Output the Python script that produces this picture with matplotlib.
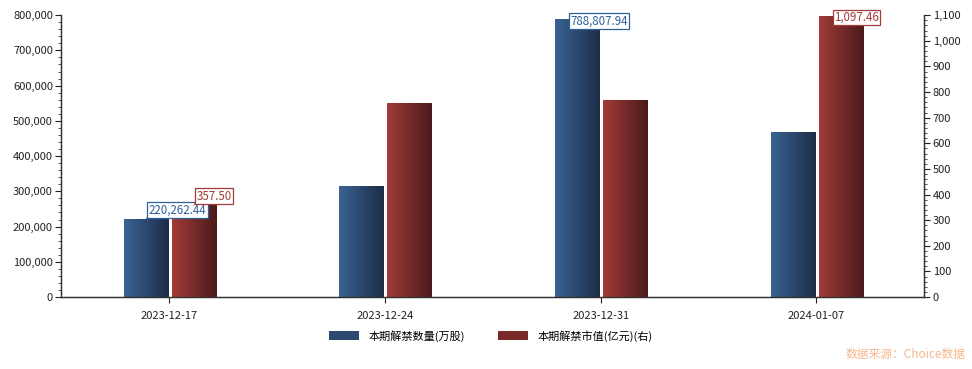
import numpy as np
import matplotlib
matplotlib.use("Agg")
from matplotlib import pyplot as plt
from matplotlib.colors import LinearSegmentedColormap
from matplotlib.patches import Patch
from matplotlib.ticker import FuncFormatter, MultipleLocator, AutoMinorLocator

plt.rcParams['font.family'] = ['Noto Sans CJK SC', 'DejaVu Sans']

dates = ["2023-12-17", "2023-12-24", "2023-12-31", "2024-01-07"]
shares = [220262.44, 315000, 788807.94, 468000]      # 本期解禁数量(万股)
values = [357.50, 757, 768, 1097.46]                 # 本期解禁市值(亿元)
labelled_shares = [0, 2]
labelled_values = [0, 3]

blue_map = LinearSegmentedColormap.from_list("b", ["#3a6393", "#1c2d48"])
red_map = LinearSegmentedColormap.from_list("r", ["#a33b38", "#4a1b1b"])
grad = np.linspace(0, 1, 64).reshape(1, -1)


def gradient_bars(ax, xs, hs, w, cmap):
    bars = ax.bar(xs, hs, w, color="none", edgecolor="none")
    for r in bars:
        x0, y0 = r.get_x(), r.get_y()
        im = ax.imshow(grad, cmap=cmap, aspect="auto", origin="lower",
                       extent=[x0, x0 + r.get_width(), y0, y0 + r.get_height()],
                       zorder=2)
        im.set_clip_path(r)
    return bars


fig = plt.figure(figsize=(9.72, 3.69), dpi=100)
ax = fig.add_axes([0.063, 0.195, 0.888, 0.764])
ax2 = ax.twinx()

x = np.arange(len(dates))
w = 0.205
dx_b, dx_r = -0.108, 0.114
gradient_bars(ax, x + dx_b, shares, w, blue_map)
gradient_bars(ax2, x + dx_r, values, w, red_map)

ax.set_xlim(-0.5, 3.5)
ax.set_ylim(0, 800000)
ax2.set_ylim(0, 1100)

ax.yaxis.set_major_locator(MultipleLocator(100000))
ax.yaxis.set_minor_locator(AutoMinorLocator(5))
ax.yaxis.set_major_formatter(FuncFormatter(lambda v, p: f"{v:,.0f}"))
ax2.yaxis.set_major_locator(MultipleLocator(100))
ax2.yaxis.set_minor_locator(AutoMinorLocator(5))
ax2.yaxis.set_major_formatter(FuncFormatter(lambda v, p: f"{v:,.0f}"))

ax.set_xticks(x)
ax.set_xticklabels(dates)

axis_col = "#333333"
for a in (ax, ax2):
    a.spines["top"].set_visible(False)
    for s in ("left", "right", "bottom"):
        a.spines[s].set_color(axis_col)
        a.spines[s].set_linewidth(0.9)
    a.tick_params(labelsize=8, colors="#222222", length=4, width=0.8, pad=2)
    a.tick_params(which="minor", length=2.5, width=0.6, colors=axis_col)
ax.tick_params(axis="x", length=4, pad=6)


def label(trans, xv, yv, txt, col, near_top):
    off = (-5, -6) if near_top else (2, 2)
    ax2.annotate(txt, xy=(xv, yv), xycoords=trans,
                 xytext=off, textcoords="offset points", fontsize=8.3,
                 color=col, va="bottom", ha="left", annotation_clip=False,
                 bbox=dict(boxstyle="square,pad=0.12", fc="white", ec=col, lw=0.9),
                 zorder=6)
    if not near_top:
        ax2.annotate("", xy=(xv, yv), xycoords=trans, xytext=(2, 3),
                     textcoords="offset points",
                     arrowprops=dict(arrowstyle="-", color=col, lw=0.6), zorder=6)


for i in labelled_shares:
    label(ax.transData, x[i] + dx_b, shares[i], f"{shares[i]:,.2f}", "#2e6099",
          shares[i] > 0.9 * 800000)
for i in labelled_values:
    label(ax2.transData, x[i] + dx_r, values[i], f"{values[i]:,.2f}", "#a33b38",
          values[i] > 0.9 * 1100)

handles = [Patch(facecolor="#2c4a70", label="本期解禁数量(万股)"),
           Patch(facecolor="#7a2b29", label="本期解禁市值(亿元)(右)")]
fig.legend(handles=handles, loc="center", bbox_to_anchor=(0.505, 0.09), ncol=2,
           frameon=False, fontsize=8, handlelength=2.7, handleheight=0.8,
           handletextpad=0.8, columnspacing=3)

fig.text(0.993, 0.022, "数据来源：Choice数据", color="#f6b88c", fontsize=8.5,
         ha="right", va="bottom")

fig.savefig("out.png", dpi=100)
